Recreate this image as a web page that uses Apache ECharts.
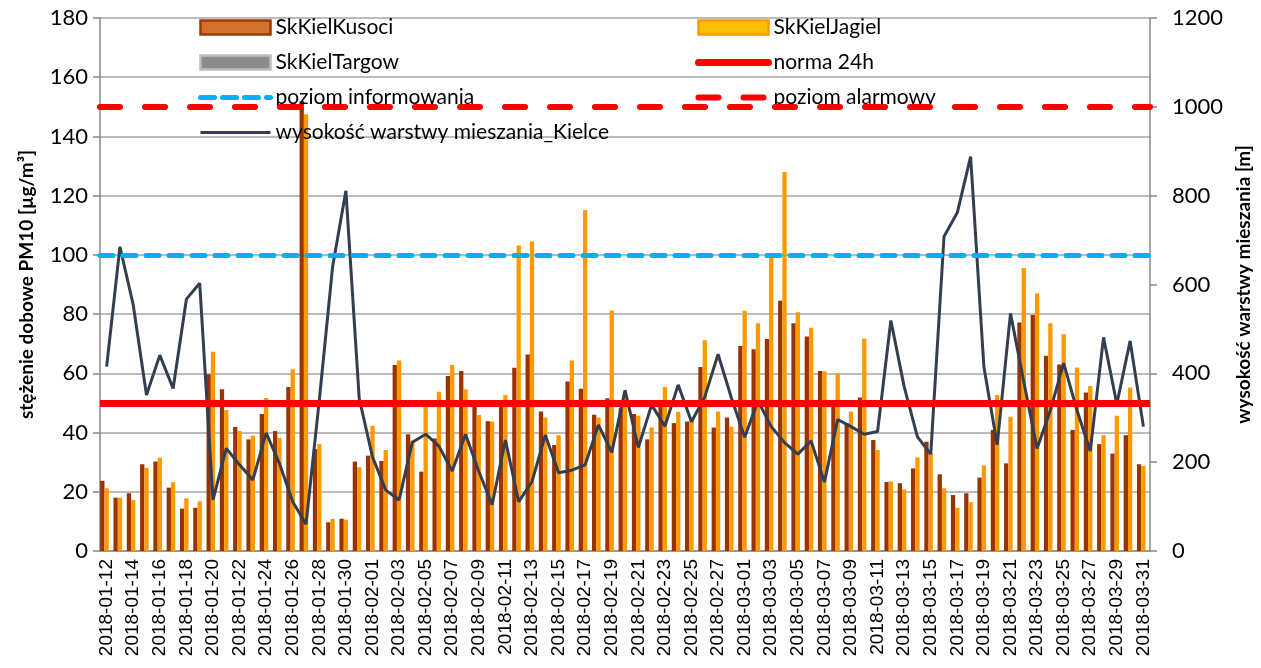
<!DOCTYPE html>
<html>
<head>
<meta charset="utf-8">
<script src="https://cdn.jsdelivr.net/npm/echarts@6/dist/echarts.min.js"></script>
<style>
  html, body { margin: 0; padding: 0; background: #fff; }
  #chart { width: 1261px; height: 668px; }
</style>
</head>
<body>
<div id="chart"></div>
<script>
var dates = [
    '2018-01-12', '2018-01-13', '2018-01-14', '2018-01-15', '2018-01-16', '2018-01-17', '2018-01-18', '2018-01-19',
    '2018-01-20', '2018-01-21', '2018-01-22', '2018-01-23', '2018-01-24', '2018-01-25', '2018-01-26', '2018-01-27',
    '2018-01-28', '2018-01-29', '2018-01-30', '2018-01-31', '2018-02-01', '2018-02-02', '2018-02-03', '2018-02-04',
    '2018-02-05', '2018-02-06', '2018-02-07', '2018-02-08', '2018-02-09', '2018-02-10', '2018-02-11', '2018-02-12',
    '2018-02-13', '2018-02-14', '2018-02-15', '2018-02-16', '2018-02-17', '2018-02-18', '2018-02-19', '2018-02-20',
    '2018-02-21', '2018-02-22', '2018-02-23', '2018-02-24', '2018-02-25', '2018-02-26', '2018-02-27', '2018-02-28',
    '2018-03-01', '2018-03-02', '2018-03-03', '2018-03-04', '2018-03-05', '2018-03-06', '2018-03-07', '2018-03-08',
    '2018-03-09', '2018-03-10', '2018-03-11', '2018-03-12', '2018-03-13', '2018-03-14', '2018-03-15', '2018-03-16',
    '2018-03-17', '2018-03-18', '2018-03-19', '2018-03-20', '2018-03-21', '2018-03-22', '2018-03-23', '2018-03-24',
    '2018-03-25', '2018-03-26', '2018-03-27', '2018-03-28', '2018-03-29', '2018-03-30', '2018-03-31'
];

// PM10, µg/m3
var kusoci = [
    23.7, 18.0, 19.5, 29.3, 30.2, 21.4, 14.3, 14.6, 59.7, 54.6,
    41.9, 37.7, 46.3, 40.5, 55.4, 152, 34.4, 9.7, 10.9, 30.2,
    32.2, 30.4, 62.8, 39.4, 26.8, 38, 59.1, 60.8, 48.7, 43.8,
    48.7, 61.9, 66.4, 47.1, 35.8, 57.2, 54.8, 46.0, 51.6, 48.2,
    46.3, 37.7, 48.7, 43.2, 43.7, 62.1, 41.7, 45.1, 69.2, 68.1,
    71.6, 84.5, 76.9, 72.4, 60.8, 48.7, 43.1, 51.8, 37.5, 23.3,
    22.9, 27.9, 36.9, 25.9, 18.9, 19.5, 24.8, 40.9, 29.6, 77.2,
    79.7, 65.9, 63, 40.9, 53.5, 36.1, 32.9, 39.1, 29.3
];
var jagiel = [
    21.2, 18.0, 17.2, 28.1, 31.5, 23.2, 17.8, 16.8, 67.3, 47.6,
    40.5, 38.9, 51.7, 38.2, 61.4, 147.5, 36.1, 10.8, 10.6, 28.3,
    42.3, 34.1, 64.3, 37.3, 48.6, 53.8, 62.8, 54.6, 45.9, 43.7,
    52.7, 103.2, 104.5, 45.1, 39.1, 64.3, 115.2, 45.1, 81.2, 52,
    45.7, 41.7, 55.4, 47.0, 45, 71.2, 47.1, 42.0, 81.1, 76.9,
    99.0, 128.0, 80.6, 75.4, 60.7, 60.0, 47.1, 71.8, 34.1, 23.5,
    20.8, 31.6, 33.0, 21.2, 14.6, 16.5, 28.9, 52.7, 45.3, 95.6,
    87.0, 76.9, 73.2, 62.0, 55.7, 39.1, 45.7, 55.2, 28.7
];
var targow = [];

// mixing layer height, m
var mieszanie = [
    415, 685, 554, 351, 441, 366, 567, 603, 115, 231,
    194, 160, 266, 197, 111, 60, 340, 640, 811, 344,
    212, 137, 115, 245, 263, 236, 180, 263, 179, 104,
    250, 111, 156, 261, 176, 182, 194, 284, 222, 362,
    233, 329, 281, 374, 291, 347, 443, 345, 256, 338,
    280, 244, 218, 248, 155, 296, 280, 263, 269, 519,
    370, 257, 218, 708, 762, 888, 414, 239, 535, 381,
    231, 317, 423, 317, 225, 481, 331, 473, 280
];

var norma24h = 50;
var poziomInformowania = 100;
var poziomAlarmowy = 150;

var chart = echarts.init(document.getElementById('chart'));

var gridColor = '#A6A6A6';
var axisColor = '#898989';
var labelFont = 'Lato';

var normaStyle = { color: '#FF0000', width: 7, type: 'solid' };
var infoStyle = { color: '#00B0F0', width: 5, type: [13, 10], cap: 'round' };
var alarmStyle = { color: '#FF0000', width: 6, type: [20, 25], cap: 'round' };
var heightStyle = { color: '#333F50', width: 3 };

function limitLine(name, value, style) {
    return {
        name: name,
        type: 'line',
        yAxisIndex: 0,
        data: [],
        symbol: 'none',
        lineStyle: style,
        itemStyle: { color: style.color },
        markLine: {
            silent: true,
            symbol: 'none',
            label: { show: false },
            lineStyle: style,
            data: [{ yAxis: value }]
        },
        z: 3
    };
}

var legendText = { fontFamily: labelFont, fontSize: 21, color: '#000', lineHeight: 20 };
var noMarker = { opacity: 0 };

var option = {
    animation: false,
    backgroundColor: '#fff',
    grid: { left: 100, right: 100, top: 18, bottom: 117 },
    legend: [
        {
            orient: 'vertical',
            left: 198,
            top: 17,
            padding: 0,
            itemWidth: 70,
            itemHeight: 14,
            itemGap: 14,
            textStyle: legendText,
            data: [
                { name: 'SkKielKusoci', icon: 'rect', itemStyle: { color: '#D2722E', borderColor: '#9A3A06', borderWidth: 2.5 } },
                { name: 'SkKielTargow', icon: 'rect', itemStyle: { color: '#8C8C8C', borderColor: '#BDBDBD', borderWidth: 2.5 } },
                { name: 'poziom informowania', itemStyle: noMarker, lineStyle: { color: '#00B0F0', width: 5, type: [14, 8], cap: 'round' } },
                { name: 'wysokość warstwy mieszania_Kielce', itemStyle: noMarker, lineStyle: { color: '#333F50', width: 3 } }
            ]
        },
        {
            orient: 'vertical',
            left: 695,
            top: 17,
            padding: 0,
            itemWidth: 70,
            itemHeight: 14,
            itemGap: 14,
            textStyle: legendText,
            data: [
                { name: 'SkKielJagiel', icon: 'rect', itemStyle: { color: '#FFC000', borderColor: '#FF9900', borderWidth: 2.5 } },
                { name: 'norma 24h', itemStyle: noMarker, lineStyle: { color: '#FF0000', width: 7, cap: 'round' } },
                { name: 'poziom alarmowy', itemStyle: noMarker, lineStyle: { color: '#FF0000', width: 6, type: [20, 25], cap: 'round' } }
            ]
        }
    ],
    xAxis: {
        type: 'category',
        data: dates,
        boundaryGap: true,
        axisLine: { lineStyle: { color: axisColor, width: 1.5 } },
        axisTick: { interval: 1, length: 6, lineStyle: { color: axisColor, width: 1.5 } },
        axisLabel: {
            interval: 1,
            rotate: 90,
            margin: 8,
            fontFamily: 'Liberation Sans',
            fontSize: 19,
            color: '#000'
        },
        splitLine: { show: false }
    },
    yAxis: [
        {
            type: 'value',
            min: 0,
            max: 180,
            interval: 20,
            name: 'stężenie dobowe PM10 [µg/m³]',
            nameLocation: 'middle',
            nameRotate: 90,
            nameGap: 64,
            nameTextStyle: { fontFamily: labelFont, fontSize: 19, fontWeight: 700, color: '#000' },
            axisLine: { show: true, lineStyle: { color: axisColor, width: 1.5 } },
            axisTick: { show: true, length: 7, lineStyle: { color: axisColor, width: 1.5 } },
            axisLabel: { margin: 12, fontFamily: labelFont, fontSize: 22, color: '#000' },
            splitLine: { show: true, lineStyle: { color: gridColor, width: 1.5 } }
        },
        {
            type: 'value',
            min: 0,
            max: 1200,
            interval: 200,
            position: 'right',
            name: 'wysokość warstwy mieszania [m]',
            nameLocation: 'middle',
            nameRotate: 90,
            nameGap: 74,
            nameTextStyle: { fontFamily: labelFont, fontSize: 19, fontWeight: 700, color: '#000' },
            axisLine: { show: true, lineStyle: { color: axisColor, width: 1.5 } },
            axisTick: { show: true, length: 7, lineStyle: { color: axisColor, width: 1.5 } },
            axisLabel: {
                margin: 22,
                fontFamily: labelFont,
                fontSize: 22,
                color: '#000',
                formatter: function (v) { return String(v); }
            },
            splitLine: { show: false }
        }
    ],
    series: [
        {
            name: 'SkKielKusoci',
            type: 'bar',
            data: kusoci,
            barGap: '0%',
            barCategoryGap: '3%',
            itemStyle: { color: '#993300' },
            z: 2
        },
        {
            name: 'SkKielJagiel',
            type: 'bar',
            data: jagiel,
            barGap: '0%',
            barCategoryGap: '3%',
            itemStyle: { color: '#FF9900' },
            z: 2
        },
        {
            name: 'SkKielTargow',
            type: 'bar',
            data: targow,
            barGap: '0%',
            barCategoryGap: '3%',
            itemStyle: { color: '#8C8C8C' },
            z: 2
        },
        limitLine('norma 24h', norma24h, normaStyle),
        limitLine('poziom informowania', poziomInformowania, infoStyle),
        limitLine('poziom alarmowy', poziomAlarmowy, alarmStyle),
        {
            name: 'wysokość warstwy mieszania_Kielce',
            type: 'line',
            yAxisIndex: 1,
            data: mieszanie,
            symbol: 'none',
            lineStyle: heightStyle,
            itemStyle: { color: heightStyle.color },
            z: 4
        }
    ]
};

chart.setOption(option);
</script>
</body>
</html>
